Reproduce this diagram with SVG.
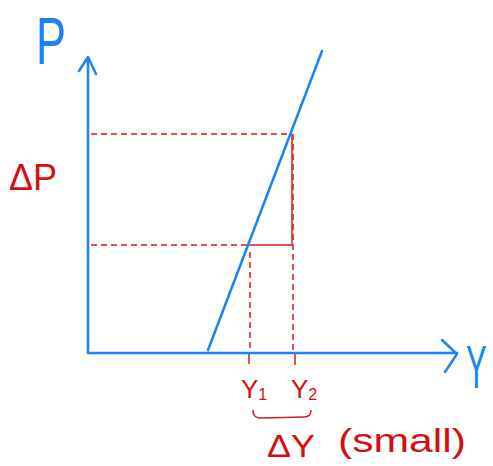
<svg xmlns="http://www.w3.org/2000/svg" width="493" height="466" viewBox="0 0 493 466">
<style>
.blue{stroke:#1a84f5;stroke-width:2.5;fill:none;stroke-linecap:round;stroke-linejoin:round}
.red{stroke:#d81b1b;stroke-width:1.5;fill:none}
.dash{stroke-dasharray:6 4}
.bt{fill:#1a84f5;font-family:"Liberation Sans",sans-serif}
.rt{fill:#d40f0f;font-family:"Liberation Sans",sans-serif}
</style>
<rect width="493" height="466" fill="#fff"/>
<g id="connectors">
<path class="red dash" d="M91 134 H292"/>
<path class="red dash" d="M91 245 H248"/>
<path class="red" d="M248 245 H292 V134"/>
<path class="red dash" d="M293 134 V352"/>
<path class="red dash" d="M250 252 V352"/>
<path class="red" d="M249 352 V364 M295 352 V365"/>
</g>
<g id="axis-p">
<path class="blue" d="M88 353 V58 M79 71 L88 57 L96 74"/>
<text class="bt" font-size="66" transform="translate(36 64) scale(0.68 1)">P</text>
</g>
<g id="axis-y">
<path class="blue" d="M88 353 H457 M442 340 L457 354 L445 372"/>
<text class="bt" font-size="62" transform="translate(466 388) scale(0.5 1)">Y</text>
</g>
<g id="supply-line">
<path class="blue" d="M208 350 L322 51"/>
</g>
<g id="delta-p">
<text class="rt" x="9" y="190" font-size="36">ΔP</text>
</g>
<g id="y1">
<text class="rt" x="241" y="398" font-size="26">Y<tspan font-size="16" dy="2">1</tspan></text>
</g>
<g id="y2">
<text class="rt" x="291" y="398" font-size="26">Y<tspan font-size="16" dy="2">2</tspan></text>
</g>
<g id="delta-y">
<path class="red" stroke-width="2" d="M253 410 Q253 419 262 418 L304 417 Q311 417 311 410"/>
<text class="rt" x="267" y="457" font-size="32" textLength="48" lengthAdjust="spacingAndGlyphs">ΔY</text>
<text class="rt" x="338" y="452" font-size="34" textLength="128" lengthAdjust="spacingAndGlyphs">(small)</text>
</g>
</svg>
